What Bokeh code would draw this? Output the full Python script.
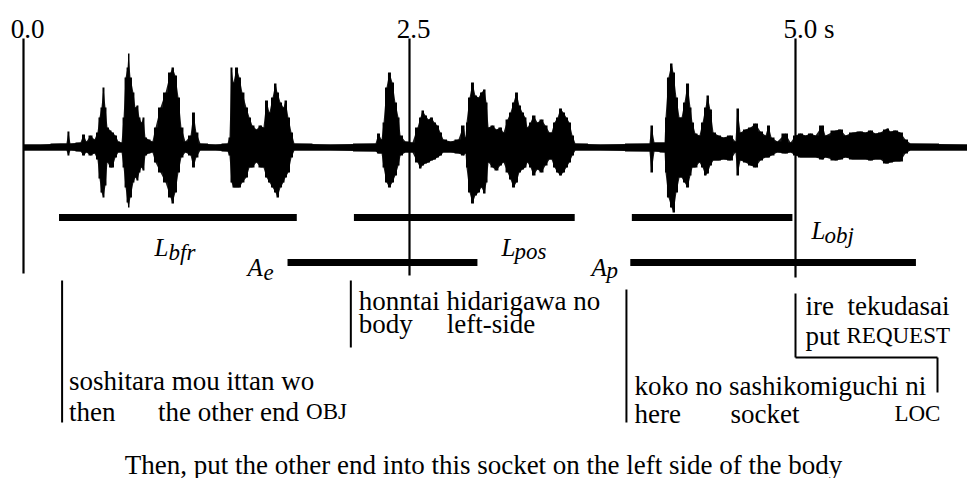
from bokeh.plotting import figure
from bokeh.models import Range1d, ColumnDataSource
from bokeh.embed import file_html
from bokeh.resources import INLINE
from bokeh.core.properties import value

# ---------------- data ----------------
TICK_TIMES = [0.0, 2.5, 5.0]
TICK_LABELS = ["0.0", "2.5", "5.0 s"]

# labelled intervals (seconds)
SEG_MAIN = ["L", "L", "L", "A", "A"]
SEG_SUB = ["bfr", "pos", "obj", "e", "p"]
SEG_START = [0.23, 2.14, 3.94, 1.71, 3.93]
SEG_END = [1.77, 3.57, 4.98, 2.94, 5.78]

# gloss blocks: onset time (s) and their two lines of words
GLOSS_ONSET = [0.25, 2.12, 3.905, 5.0]
GLOSS_LINE1 = [["soshitara mou ittan wo"], ["honntai hidarigawa no"],
               ["koko no sashikomiguchi ni"], ["ire", "tekudasai"]]
GLOSS_LINE2 = [["then", "the other end", "OBJ"], ["body", "left-side"],
               ["here", "socket", "LOC"], ["put", "REQUEST"]]
GLOSS_SMALLCAPS = {"OBJ", "REQUEST", "LOC"}
CAPTION = "Then, put the other end into this socket on the left side of the body"

# waveform envelope (time s, upper amplitude, lower amplitude)
WAVE_T = [0.000, 0.110, 0.240, 0.278, 0.291, 0.304, 0.369, 0.389, 0.408, 0.434,
          0.460, 0.479, 0.492, 0.505, 0.518, 0.531, 0.544, 0.563, 0.576, 0.596,
          0.615, 0.635, 0.648, 0.661, 0.674, 0.680, 0.693, 0.712, 0.725, 0.738,
          0.751, 0.764, 0.777, 0.790, 0.810, 0.835, 0.855, 0.887, 0.920, 0.952,
          0.965, 0.984, 1.004, 1.023, 1.049, 1.082, 1.101, 1.120, 1.146, 1.244,
          1.321, 1.334, 1.347, 1.360, 1.380, 1.399, 1.418, 1.444, 1.464, 1.483,
          1.509, 1.535, 1.554, 1.574, 1.593, 1.613, 1.632, 1.645, 1.665, 1.684,
          1.697, 1.716, 1.736, 1.755, 1.988, 2.280, 2.299, 2.319, 2.332, 2.351,
          2.370, 2.390, 2.409, 2.429, 2.442, 2.474, 2.519, 2.552, 2.571, 2.584,
          2.604, 2.623, 2.642, 2.662, 2.681, 2.701, 2.720, 2.766, 2.817, 2.850,
          2.863, 2.869, 2.889, 2.908, 2.927, 2.947, 2.966, 2.986, 2.999, 3.012,
          3.038, 3.063, 3.089, 3.109, 3.135, 3.154, 3.174, 3.193, 3.212, 3.232,
          3.251, 3.264, 3.284, 3.303, 3.329, 3.355, 3.381, 3.407, 3.420, 3.439,
          3.459, 3.478, 3.497, 3.517, 3.536, 3.556, 3.575, 3.737, 4.054, 4.067,
          4.087, 4.152, 4.158, 4.177, 4.197, 4.210, 4.229, 4.249, 4.262, 4.281,
          4.301, 4.320, 4.333, 4.352, 4.378, 4.398, 4.417, 4.430, 4.449, 4.469,
          4.501, 4.534, 4.579, 4.611, 4.624, 4.644, 4.676, 4.709, 4.741, 4.773,
          4.806, 4.825, 4.845, 4.883, 4.935, 4.968, 5.000, 5.032, 5.065, 5.097,
          5.130, 5.175, 5.194, 5.259, 5.291, 5.324, 5.369, 5.421, 5.453, 5.486,
          5.518, 5.550, 5.583, 5.596, 5.615, 5.648, 5.680, 5.712, 5.745, 6.114]
WAVE_UP = [3, 3, 4, 4, 16, 4, 5, 13, 6, 12,
           8, 15, 30, 40, 60, 40, 20, 17, 15, 12,
           6, 5, 30, 70, 80, 94, 70, 55, 40, 42,
           30, 25, 30, 10, 8, 6, 20, 40, 55, 75,
           80, 72, 50, 20, 6, 12, 35, 15, 4, 3,
           4, 10, 80, 65, 80, 70, 55, 40, 30, 22,
           18, 22, 20, 47, 35, 50, 64, 55, 45, 40,
           47, 30, 15, 4, 3, 4, 14, 8, 25, 60,
           75, 65, 45, 30, 12, 6, 5, 20, 30, 37,
           32, 28, 30, 25, 22, 15, 8, 6, 8, 22,
           10, 25, 50, 65, 52, 50, 55, 58, 45, 20,
           22, 18, 20, 15, 28, 35, 45, 55, 42, 35,
           30, 20, 25, 32, 25, 28, 22, 15, 15, 25,
           30, 39, 35, 30, 25, 12, 4, 3, 4, 22,
           5, 5, 30, 70, 84, 75, 50, 30, 30, 45,
           64, 40, 25, 14, 12, 25, 40, 52, 38, 15,
           12, 10, 12, 6, 39, 15, 18, 20, 24, 16,
           12, 22, 10, 6, 14, 5, 12, 14, 12, 14,
           12, 22, 12, 17, 18, 12, 15, 16, 15, 17,
           14, 15, 18, 19, 16, 17, 15, 8, 4, 3]
WAVE_DN = [3, 3, 3, 3, 8, 3, 4, 8, 5, 8,
           6, 12, 31, 45, 50, 38, 15, 20, 20, 10,
           5, 5, 20, 40, 55, 60, 50, 35, 30, 33,
           25, 20, 23, 8, 6, 5, 15, 25, 35, 50,
           56, 45, 25, 10, 5, 8, 20, 10, 3, 3,
           4, 8, 35, 40, 40, 40, 35, 30, 20, 20,
           15, 20, 20, 30, 35, 40, 45, 50, 40, 35,
           30, 25, 10, 3, 3, 4, 6, 6, 20, 35,
           40, 35, 28, 18, 8, 5, 5, 15, 21, 18,
           16, 15, 13, 12, 10, 8, 5, 5, 6, 8,
           6, 20, 45, 56, 48, 45, 40, 46, 35, 15,
           20, 23, 18, 15, 25, 32, 40, 35, 25, 22,
           20, 15, 20, 28, 22, 25, 18, 12, 12, 20,
           25, 28, 25, 20, 15, 8, 3, 3, 4, 25,
           4, 5, 25, 50, 60, 65, 45, 30, 30, 35,
           40, 28, 20, 20, 15, 20, 28, 26, 18, 13,
           13, 12, 13, 5, 28, 13, 15, 18, 20, 13,
           10, 10, 8, 5, 6, 5, 8, 10, 10, 10,
           10, 12, 10, 13, 12, 10, 12, 12, 12, 13,
           12, 12, 16, 16, 15, 14, 14, 6, 3, 3]

# ---------------- layout (reference pixel space) ----------------
PX_PER_S = 154.4
X0 = 23.0                      # pixel column of t = 0


def sx(px):
    """screen column -> seconds (layout helper)"""
    return (px - X0) / PX_PER_S


FONT = "Liberation Serif"
BASE = 147                      # waveform baseline row
W, H = 967, 478

p = figure(width=W, height=H, output_backend="svg", toolbar_location=None,
           x_range=Range1d(sx(0), sx(W)), y_range=Range1d(H, 0),
           x_axis_type=None, y_axis_type=None, min_border=0,
           outline_line_color=None, background_fill_color="white",
           border_fill_color="white")
p.grid.visible = False

# waveform
wav = ColumnDataSource(dict(t=WAVE_T,
                            top=[BASE - u for u in WAVE_UP],
                            bot=[BASE + d for d in WAVE_DN]))
p.varea_step(x="t", y1="top", y2="bot", source=wav, step_mode="center",
             fill_color="black")
p.varea(x="t", y1="top", y2="bot", source=wav, fill_color="black",
        fill_alpha=0.9)

# time lines + labels
line_bottoms = [273, 275, 277]
p.segment(x0=TICK_TIMES, y0=[38] * 3, x1=TICK_TIMES, y1=line_bottoms,
          line_color="black", line_width=2.2)
p.text(x=TICK_TIMES[:2], y=[28, 28], text=TICK_LABELS[:2], x_offset=4,
       text_align="center", text_baseline="alphabetic",
       text_font=value(FONT), text_font_size="27px", text_color="black")
p.text(x=[TICK_TIMES[2]], y=[28], text=[TICK_LABELS[2]], x_offset=-12,
       text_align="left", text_baseline="alphabetic",
       text_font=value(FONT), text_font_size="27px", text_color="black")

# interval bars
bar_rows = [217, 217, 217, 262, 262]
p.segment(x0=SEG_START, y0=bar_rows, x1=SEG_END, y1=bar_rows,
          line_color="black", line_width=7, line_cap="butt")

# interval labels (main letter + subscript), placed in pixels
lab_x = [154, 501, 811, 247, 591]
lab_y = [247, 247, 230, 267, 267]
sub_dx = [14, 13, 13, 16, 15]
sub_dy = [5, 4, 5, 5, 3]
p.text(x=[sx(v) for v in lab_x], y=lab_y, text=SEG_MAIN,
       text_align="left", text_baseline="alphabetic",
       text_font=value(FONT), text_font_style="italic",
       text_font_size="25px", text_color="black")
p.text(x=[sx(v + d) for v, d in zip(lab_x, sub_dx)],
       y=[v + d for v, d in zip(lab_y, sub_dy)], text=SEG_SUB,
       text_align="left", text_baseline="alphabetic",
       text_font=value(FONT), text_font_style="italic",
       text_font_size="23px", text_color="black")

# gloss brackets
brk_top = [280, 280, 289, 293]
brk_bot = [422, 347, 422, 357]
p.segment(x0=GLOSS_ONSET, y0=brk_top, x1=GLOSS_ONSET, y1=brk_bot,
          line_color="black", line_width=2)
right_edge = sx(937)
p.segment(x0=[GLOSS_ONSET[3], right_edge], y0=[357, 357],
          x1=[right_edge, right_edge], y1=[357, 392],
          line_color="black", line_width=2)

# gloss words: pixel offsets of each word from its bracket
line1_dx = [[7], [8], [8], [10, 52]]
line2_dx = [[7, 96, 244], [8, 96], [8, 104, 268], [10, 51]]
line1_y = [380, 300, 385, 305]
line2_y = [411, 323, 413, 335]

for k in range(4):
    for words, dxs, yy in ((GLOSS_LINE1[k], line1_dx[k], line1_y[k]),
                           (GLOSS_LINE2[k], line2_dx[k], line2_y[k])):
        for w, dx in zip(words, dxs):
            small = w in GLOSS_SMALLCAPS
            p.text(x=[GLOSS_ONSET[k]], y=[yy], text=[w], x_offset=dx,
                   text_align="left", text_baseline="alphabetic",
                   text_font=value(FONT),
                   text_font_size="23px" if small else "27px",
                   text_color="black")

# caption
p.text(x=[sx(483)], y=[464], text=[CAPTION], text_align="center",
       text_baseline="alphabetic", text_font=value(FONT),
       text_font_size="27px", text_color="black")

open("out.html", "w").write(file_html(p, INLINE))
